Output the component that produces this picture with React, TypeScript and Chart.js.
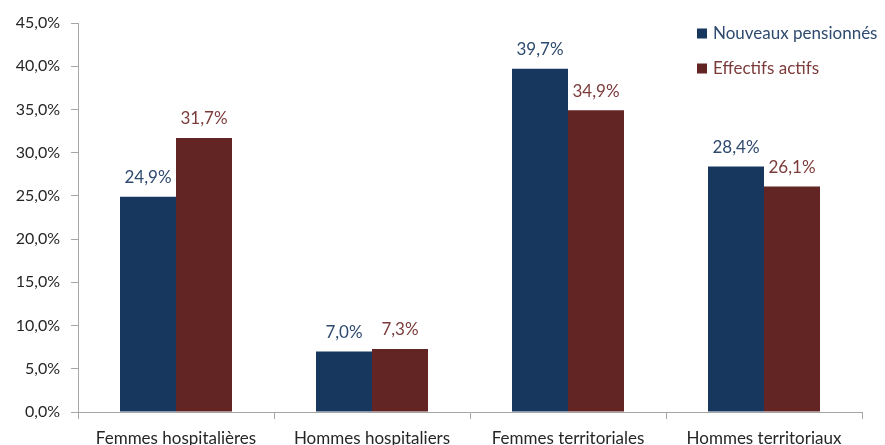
import React, { useEffect, useRef } from "react";
import { Chart, registerables } from "chart.js";

Chart.register(...registerables);

const categories = [
  "Femmes hospitalières",
  "Hommes hospitaliers",
  "Femmes territoriales",
  "Hommes territoriaux",
];
const seriesNames = ["Nouveaux pensionnés", "Effectifs actifs"];
const nouveauxPensionnes = [24.9, 7.0, 39.7, 28.4];
const effectifsActifs = [31.7, 7.3, 34.9, 26.1];
const barColors = ["#17375E", "#632523"];
const labelColors = ["#2E4A6E", "#7B3B3A"];
const yMin = 0;
const yMax = 45;
const yStep = 5;

const FONT = "Lato, 'DejaVu Sans', sans-serif";
const fmt = (v: number) => v.toFixed(1).replace(".", ",") + "%";

const valueLabels = {
  id: "valueLabels",
  afterDatasetsDraw(chart: any) {
    const ctx = chart.ctx;
    ctx.save();
    ctx.font = `17px ${FONT}`;
    ctx.textAlign = "center";
    ctx.textBaseline = "middle";
    chart.data.datasets.forEach((ds: any, i: number) => {
      const meta = chart.getDatasetMeta(i);
      ctx.fillStyle = labelColors[i];
      meta.data.forEach((bar: any, j: number) => {
        ctx.fillText(fmt(ds.data[j]), bar.x, bar.y - 19);
      });
    });
    ctx.restore();
  },
};

const insideLegend = {
  id: "insideLegend",
  afterDraw(chart: any) {
    const ctx = chart.ctx;
    const area = chart.chartArea;
    const x0 = area.right - 165;
    const y0 = area.top + 10.5;
    ctx.save();
    ctx.font = `17px ${FONT}`;
    ctx.textAlign = "left";
    ctx.textBaseline = "middle";
    chart.data.datasets.forEach((ds: any, i: number) => {
      const cy = y0 + i * 35;
      ctx.fillStyle = ds.backgroundColor;
      ctx.fillRect(x0, cy - 5, 10, 10);
      ctx.fillStyle = labelColors[i];
      ctx.fillText(ds.label, x0 + 16, cy + 0.5);
    });
    ctx.restore();
  },
};

export default function App() {
  const ref = useRef<HTMLCanvasElement>(null);
  useEffect(() => {
    document.body.style.margin = "0";
    document.body.style.overflow = "hidden";
    const chart = new Chart(ref.current!, {
      type: "bar",
      data: {
        labels: categories,
        datasets: [
          {
            label: seriesNames[0],
            data: nouveauxPensionnes,
            backgroundColor: barColors[0],
          },
          {
            label: seriesNames[1],
            data: effectifsActifs,
            backgroundColor: barColors[1],
          },
        ],
      },
      options: {
        animation: false,
        responsive: false,
        maintainAspectRatio: false,
        layout: { padding: { left: 0, right: 23, top: 23, bottom: 0 } },
        plugins: {
          legend: { display: false },
          tooltip: { enabled: false },
        },
        datasets: {
          bar: { categoryPercentage: 112 / 196, barPercentage: 1 },
        },
        scales: {
          x: {
            afterFit: (s: any) => {
              s.height = 33;
            },
            grid: {
              offset: true,
              drawOnChartArea: false,
              drawTicks: true,
              tickLength: 7,
              color: "#A6A6A6",
            },
            border: { color: "#A6A6A6" },
            ticks: {
              color: "#262626",
              font: { family: FONT, size: 17 },
              padding: 9,
              maxRotation: 0,
              autoSkip: false,
            },
          },
          y: {
            min: yMin,
            max: yMax,
            afterFit: (s: any) => {
              s.width = 78;
            },
            grid: {
              drawOnChartArea: false,
              drawTicks: true,
              tickLength: 7,
              color: "#A6A6A6",
            },
            border: { color: "#A6A6A6" },
            ticks: {
              stepSize: yStep,
              color: "#262626",
              font: { family: FONT, size: 16 },
              padding: 11,
              callback: (v: any) => fmt(Number(v)),
            },
          },
        },
      },
      plugins: [valueLabels, insideLegend],
    });
    return () => chart.destroy();
  }, []);
  return (
    <div style={{ width: 885, height: 445 }}>
      <canvas ref={ref} width={885} height={445} style={{ display: "block" }} />
    </div>
  );
}
